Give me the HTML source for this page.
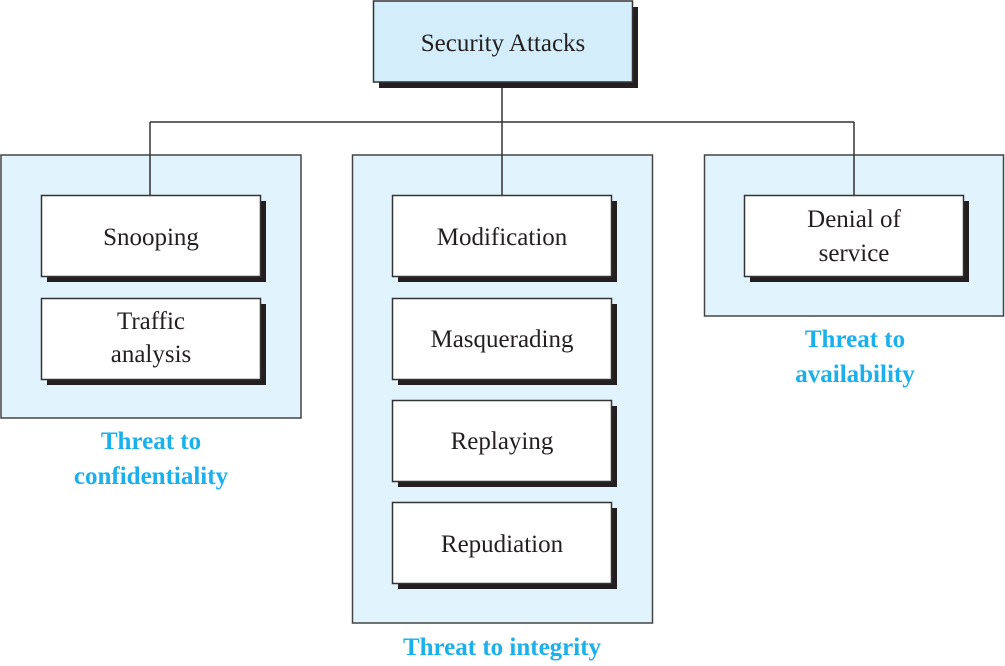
<!DOCTYPE html>
<html><head><meta charset="utf-8"><style>
html,body{margin:0;padding:0;background:#fff;width:1005px;height:666px;overflow:hidden}
</style></head><body>
<svg width="1005" height="666" xmlns="http://www.w3.org/2000/svg" font-family="'Liberation Serif', serif">
<g stroke="#333" stroke-width="1.5" fill="none">
<path d="M502 82 V195 M150 122 H854 M150 122 V195 M854 122 V195"/>
</g>
<!-- panels -->
<rect x="1" y="155" width="300" height="263" fill="#e1f3fc" stroke="#444" stroke-width="1.5"/>
<rect x="352.5" y="155" width="300" height="468" fill="#e1f3fc" stroke="#444" stroke-width="1.5"/>
<rect x="704.5" y="155" width="299" height="161" fill="#e1f3fc" stroke="#444" stroke-width="1.5"/>
<path d="M150 155 V195 M502 155 V195 M854 155 V195" stroke="#333" stroke-width="1.5"/>
<!-- top box -->
<rect x="379" y="7" width="259" height="81" fill="#231f20"/>
<rect x="373.5" y="1" width="259" height="81" fill="#d3eefa" stroke="#333" stroke-width="1.5"/>
<text x="503" y="51" font-size="25" text-anchor="middle" fill="#231f20">Security Attacks</text>
<!-- boxes -->
<g font-size="25" text-anchor="middle" fill="#231f20">
<rect x="47" y="201" width="219" height="81" fill="#231f20"/>
<rect x="41.5" y="195.5" width="219" height="81" fill="#fff" stroke="#333" stroke-width="1.5"/>
<text x="151" y="245">Snooping</text>
<rect x="47" y="304" width="219" height="81" fill="#231f20"/>
<rect x="41.5" y="298.5" width="219" height="81" fill="#fff" stroke="#333" stroke-width="1.5"/>
<text x="151" y="329">Traffic</text><text x="151" y="362">analysis</text>

<rect x="398" y="201" width="219" height="81" fill="#231f20"/>
<rect x="392.5" y="195.5" width="219" height="81" fill="#fff" stroke="#333" stroke-width="1.5"/>
<text x="502" y="245">Modification</text>
<rect x="398" y="304" width="219" height="81" fill="#231f20"/>
<rect x="392.5" y="298.5" width="219" height="81" fill="#fff" stroke="#333" stroke-width="1.5"/>
<text x="502" y="347">Masquerading</text>
<rect x="398" y="406" width="219" height="81" fill="#231f20"/>
<rect x="392.5" y="400.5" width="219" height="81" fill="#fff" stroke="#333" stroke-width="1.5"/>
<text x="502" y="449">Replaying</text>
<rect x="398" y="508" width="219" height="81" fill="#231f20"/>
<rect x="392.5" y="502.5" width="219" height="81" fill="#fff" stroke="#333" stroke-width="1.5"/>
<text x="502" y="552">Repudiation</text>

<rect x="750" y="201" width="219" height="81" fill="#231f20"/>
<rect x="744.5" y="195.5" width="219" height="81" fill="#fff" stroke="#333" stroke-width="1.5"/>
<text x="854" y="227">Denial of</text><text x="854" y="261">service</text>
</g>
<g font-size="25" font-weight="bold" fill="#1ab0ec" text-anchor="middle">
<text x="151" y="449">Threat to</text>
<text x="151" y="484">confidentiality</text>
<text x="502" y="655">Threat to integrity</text>
<text x="855" y="347">Threat to</text>
<text x="855" y="382">availability</text>
</g>
</svg>
</body></html>
